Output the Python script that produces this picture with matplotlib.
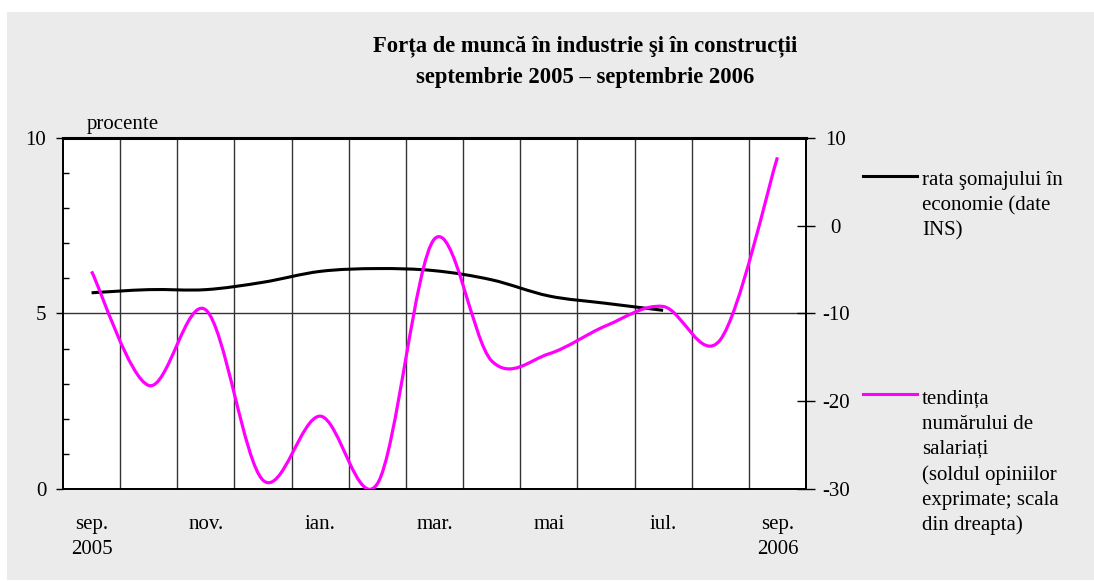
import numpy as np
import matplotlib
matplotlib.use('Agg')
import matplotlib.pyplot as plt
from matplotlib.path import Path
from matplotlib.patches import PathPatch, Rectangle
from matplotlib.lines import Line2D

plt.rcParams['font.family'] = ['Liberation Serif', 'DejaVu Serif']
plt.rcParams['axes.unicode_minus'] = False

# luni sep. 2005 - sep. 2006
months = ['sep.\n2005', 'oct.', 'nov.', 'dec.', 'ian.', 'feb.', 'mar.',
          'apr.', 'mai', 'iun.', 'iul.', 'aug.', 'sep.\n2006']
# rata somajului (procente, scala stanga) - pana in iul. 2006
somaj = [5.59, 5.68, 5.68, 5.89, 6.2, 6.28, 6.22, 5.96, 5.5, 5.29, 5.09]
# tendinta numarului de salariati (sold, scala dreapta)
salariati = [-5.2, -18.2, -9.6, -29.0, -21.7, -29.4, -1.5, -15.4, -14.6,
             -11.4, -9.2, -13.0, 7.8]

title = 'Forța de muncă în industrie şi în construcții\nseptembrie 2005 – septembrie 2006'
leg1 = 'rata şomajului în\neconomie (date\nINS)'
leg2 = 'tendința\nnumărului de\nsalariați\n(soldul opiniilor\nexprimate; scala\ndin dreapta)'


def smooth_path(xs, ys):
    # curba neteda (bezier) prin punctele seriei
    pts = np.column_stack([xs, ys]).astype(float)
    n = len(pts)
    verts = [pts[0]]
    codes = [Path.MOVETO]
    for i in range(n - 1):
        p0 = pts[i - 1] if i > 0 else pts[i]
        p1 = pts[i]
        p2 = pts[i + 1]
        p3 = pts[i + 2] if i + 2 < n else pts[i + 1]
        c1 = p1 + (p2 - p0) / 6
        c2 = p2 - (p3 - p1) / 6
        verts += [c1, c2, p2]
        codes += [Path.CURVE4] * 3
    return Path(verts, codes)


W, H = 1094, 581
fig = plt.figure(figsize=(W / 100, H / 100), dpi=100)
fig.patch.set_facecolor('white')
fig.add_artist(Rectangle((7 / W, 1 - 580 / H), 1 - 7 / W, (580 - 12) / H,
                         transform=fig.transFigure, facecolor='#ebebeb',
                         edgecolor='none', zorder=-10))

ax = fig.add_axes([63 / W, 1 - 489 / H, (806 - 63) / W, (489 - 138) / H])
ax.set_facecolor('white')
ax2 = ax.twinx()

x = np.arange(len(months))
ax.set_xlim(-0.5, len(months) - 0.5)
ax.set_ylim(0, 10)
ax2.set_ylim(-30, 10)

# linii verticale intre luni si linia orizontala la 5
for b in np.arange(0.5, len(months) - 0.5, 1):
    ax.axvline(b, color='#333333', lw=1, zorder=1)
ax.axhline(5, color='#333333', lw=1, zorder=1)

ax.add_patch(PathPatch(smooth_path(x[:len(somaj)], somaj), fill=False,
                       edgecolor='black', lw=2.2, zorder=3))
ax2.add_patch(PathPatch(smooth_path(x, salariati), fill=False,
                        edgecolor='#ff00ff', lw=2.3, zorder=3))

# axa x
ax.set_xticks(x[::2])
ax.set_xticklabels([months[i] for i in range(0, len(months), 2)])
ax.tick_params(axis='x', length=0, pad=18.5, labelsize=15)
for lab in ax.get_xticklabels():
    lab.set_linespacing(1.45)

# axa stanga
ax.set_yticks([0, 5, 10])
ax.set_yticks(np.arange(0, 11, 1), minor=True)
ax.tick_params(axis='y', which='major', direction='out', length=5, width=1,
               pad=7, labelsize=15)
ax.tick_params(axis='y', which='minor', direction='in', length=4, width=1)

# axa dreapta
ax2.set_yticks([-30, -20, -10, 0, 10])
ax2.tick_params(axis='y', direction='inout', length=13, width=1, pad=15,
                labelsize=15)
for lab in ax2.get_yticklabels():
    lab.set_horizontalalignment('center')

for a in (ax, ax2):
    for s in a.spines.values():
        s.set_linewidth(1.3)
ax.spines['top'].set_linewidth(2.2)

ax.text(87 / W, 1 - 124 / H, 'procente', transform=fig.transFigure,
        fontsize=15, va='center', ha='left')

fig.text(585 / W, 1 - 62 / H, title, ha='center', va='center', fontsize=16.3,
         fontweight='bold', linespacing=1.62)

# legenda
fig.add_artist(Line2D([863 / W, 917 / W], [1 - 176 / H] * 2,
                      transform=fig.transFigure, color='black', lw=2.2))
fig.add_artist(Line2D([863 / W, 917 / W], [1 - 394 / H] * 2,
                      transform=fig.transFigure, color='#ff00ff', lw=2.2))
fig.text(922 / W, 1 - 171 / H, leg1, ha='left', va='top', fontsize=15,
         linespacing=1.42)
fig.text(922 / W, 1 - 390 / H, leg2, ha='left', va='top', fontsize=15,
         linespacing=1.42)

fig.savefig('out.png', dpi=100, facecolor=fig.get_facecolor())
